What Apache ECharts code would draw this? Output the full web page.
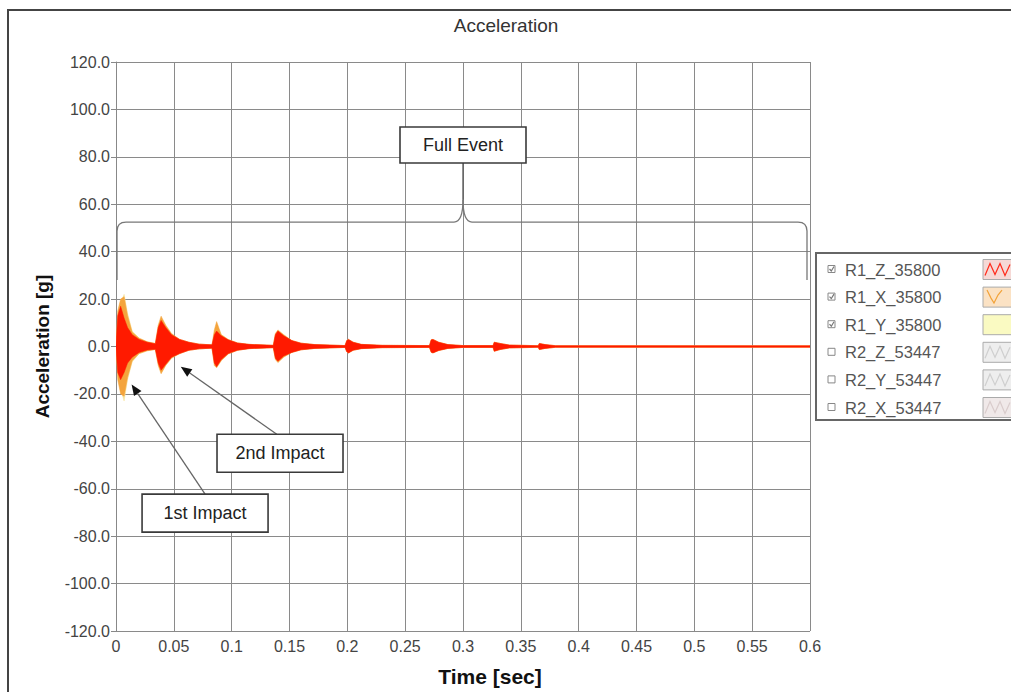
<!DOCTYPE html>
<html><head><meta charset="utf-8">
<script src="https://cdn.jsdelivr.net/npm/echarts@6/dist/echarts.min.js"></script>
<style>html,body{margin:0;padding:0;background:#fff;}#c{width:1011px;height:692px;}</style>
</head><body><div id="c"></div>
<script>
// ---------- data ----------
const chartTitle = 'Acceleration';
const xAxisTitle = 'Time [sec]';
const yAxisTitle = 'Acceleration [g]';

// envelope sample times (sec)
const time = [0.000,0.0015,0.004,0.007,0.010,0.014,0.020,0.027,0.034,
  0.0365,0.039,0.043,0.048,0.055,0.063,0.072,0.083,
  0.085,0.087,0.091,0.097,0.105,0.115,0.136,
  0.1378,0.140,0.145,0.152,0.160,0.172,0.198,
  0.1995,0.201,0.205,0.212,0.230,0.271,
  0.2725,0.274,0.279,0.287,0.300,0.326,
  0.327,0.332,0.340,0.365,
  0.366,0.371,0.380,0.600];

// R1_Z (red) envelope
const zUpper = [0.5,13,17,12,8,5,3,1.8,1.2,
  8,11,8,5,3,1.8,1,0.7,
  5,6.5,4.5,2.8,1.5,0.9,0.5,
  5,6.5,4.5,2.5,1.4,0.8,0.4,
  2.5,3,1.8,0.9,0.5,0.4,
  2.8,3,1.8,0.8,0.4,0.4,
  1.8,1.3,0.6,0.35,
  1.3,0.8,0.35,0.3];
const zLower = [-0.5,-11,-14,-11,-7,-4.5,-2.5,-1.5,-1.2,
  -7,-10,-7.5,-4.5,-3,-1.6,-1,-0.7,
  -7,-8.5,-5.5,-3,-1.6,-0.9,-0.5,
  -5,-6.2,-4,-2.5,-1.4,-0.8,-0.4,
  -2.2,-2.7,-1.6,-0.9,-0.5,-0.4,
  -2.4,-2.7,-1.7,-0.8,-0.4,-0.4,
  -2,-1.3,-0.6,-0.35,
  -1.3,-0.8,-0.35,-0.3];
// R1_X (orange) envelope
const xUpper = [0.5,15,20,21,13,6,3.5,2,1.3,
  9,12.8,9,5.5,3,1.8,1,0.7,
  7,10.5,5,3,1.5,0.9,0.5,
  5.5,7,5,2.5,1.4,0.8,0.4,
  2.5,3,1.8,0.9,0.5,0.4,
  2.8,3,1.8,0.8,0.4,0.4,
  1.8,1.3,0.6,0.35,
  1.3,0.8,0.35,0.3];
const xLower = [-0.5,-14,-20,-21,-13,-6,-3,-1.8,-1.3,
  -8,-11.5,-8,-5,-3,-1.6,-1,-0.7,
  -8,-9,-6,-3.2,-1.6,-0.9,-0.5,
  -5.5,-6.8,-4.5,-2.5,-1.4,-0.8,-0.4,
  -2.2,-2.7,-1.6,-0.9,-0.5,-0.4,
  -2.4,-2.7,-1.7,-0.8,-0.4,-0.4,
  -2,-1.3,-0.6,-0.35,
  -1.3,-0.8,-0.35,-0.3];
// R1_Y (yellow) envelope
const yUpper = [0.3,12,18,22,14,6.5,3.5,2,1.2,
  7,12,8,5,3,1.8,1,0.7,
  4,9,5,2.8,1.5,0.9,0.5,
  5,6.5,4.5,2.5,1.4,0.8,0.4,
  2.5,3,1.8,0.9,0.5,0.4,
  2.8,3,1.8,0.8,0.4,0.4,
  1.8,1.3,0.6,0.35,
  1.3,0.8,0.35,0.3];
const yLower = [-0.3,-10,-18,-23,-14,-6.5,-3,-1.8,-1.2,
  -6,-11,-7.5,-4.5,-3,-1.6,-1,-0.7,
  -6,-8.5,-5.5,-3,-1.6,-0.9,-0.5,
  -5,-6.2,-4,-2.5,-1.4,-0.8,-0.4,
  -2.2,-2.7,-1.6,-0.9,-0.5,-0.4,
  -2.4,-2.7,-1.7,-0.8,-0.4,-0.4,
  -2,-1.3,-0.6,-0.35,
  -1.3,-0.8,-0.35,-0.3];

const legendNames = ['R1_Z_35800','R1_X_35800','R1_Y_35800','R2_Z_53447','R2_Y_53447','R2_X_53447'];
const legendChecked = [true,true,true,false,false,false];
const annotationTexts = ['Full Event','1st Impact','2nd Impact'];

// ---------- chart ----------
const FONT = 'Liberation Sans, Arial, sans-serif';
const chart = echarts.init(document.getElementById('c'), null, {renderer:'svg'});

function band(name, upper, lower, color, z){
  return {
    name:name, type:'custom', z:z, silent:true, clip:true,
    data:[[0]],
    renderItem:function(params, api){
      const top = upper.map((v,i)=>api.coord([time[i], v]));
      const bot = lower.map((v,i)=>api.coord([time[i], v])).reverse();
      return {type:'polygon', shape:{points: top.concat(bot)},
        style:{fill:color, stroke:color, lineWidth:0.5}};
    }
  };
}

const axisCommon = {
  axisLine:{show:true, lineStyle:{color:'#888', width:1}},
  axisTick:{show:true, length:5, lineStyle:{color:'#888'}},
  splitLine:{show:true, lineStyle:{color:'#8a8a8a', width:1}},
};

chart.setOption({
  animation:false,
  backgroundColor:'#fff',
  title:{text:chartTitle, left:501, top:11, textAlign:'center',
    textStyle:{fontFamily:FONT, fontSize:19, fontWeight:'normal', color:'#333'}},
  grid:{left:116, right:201, top:62, bottom:60, containLabel:false},
  xAxis:Object.assign({type:'value', min:0, max:0.6, interval:0.05,
    axisLabel:{formatter:v=>String(+v.toFixed(2)), color:'#444', fontFamily:FONT, fontSize:16, margin:7},
    name:xAxisTitle, nameLocation:'middle', nameGap:35,
    nameTextStyle:{fontFamily:FONT, fontSize:21, fontWeight:'bold', color:'#111', padding:[0,0,0,54]}}, axisCommon),
  yAxis:Object.assign({type:'value', min:-120, max:120, interval:20,
    axisLabel:{formatter:v=>v.toFixed(1), color:'#444', fontFamily:FONT, fontSize:16, margin:6},
    name:yAxisTitle, nameLocation:'middle', nameGap:64,
    nameTextStyle:{fontFamily:FONT, fontSize:19, fontWeight:'bold', color:'#111'}}, axisCommon),
  series:[
    band('R1_Y_35800', yUpper, yLower, '#f6e39c', 3),
    band('R1_X_35800', xUpper, xLower, '#f4a43c', 4),
    band('R1_Z_35800', zUpper, zLower, '#ff1a00', 5)
  ]
});

// ---------- annotations (anchored in data coordinates) ----------
const P = (t,v)=>chart.convertToPixel({xAxisIndex:0, yAxisIndex:0},[t,v]);
const G = [];

// outer frame
G.push({type:'rect', z:100, shape:{x:8, y:10, width:1100, height:800}, style:{fill:null, stroke:'#444', lineWidth:2}, silent:true});

// brace
(function(){
  const xL = P(0,0)[0]+1, xR = P(0.6,0)[0]-3, xC = P(0.3,0)[0];
  const yH = P(0,52.5)[1], yE = P(0,28)[1], yT = P(0,62)[1];
  const r = 9;
  const st = {fill:null, stroke:'#777', lineWidth:1.3};
  const L = (x1,y1,x2,y2)=>G.push({type:'line', z:100, shape:{x1,y1,x2,y2}, style:st, silent:true});
  const Q = (x1,y1,cx,cy,x2,y2)=>G.push({type:'bezierCurve', z:100, shape:{x1,y1,x2,y2,cpx1:cx,cpy1:cy}, style:st, silent:true});
  L(xL,yE,xL,yH+r); Q(xL,yH+r,xL,yH,xL+r,yH); L(xL+r,yH,xC-r,yH); Q(xC-r,yH,xC,yH,xC,yT);
  Q(xC,yT,xC,yH,xC+r,yH); L(xC+r,yH,xR-r,yH); Q(xR-r,yH,xR,yH,xR,yH+r); L(xR,yH+r,xR,yE);
  const yb = P(0,77.5)[1];
  G.push({type:'line', z:100, shape:{x1:xC, y1:yT, x2:xC, y2:yb}, style:{stroke:'#555', lineWidth:1.3}, silent:true});
})();

function box(t, v, w, h, text){
  const [cx, cy] = P(t, v);
  G.push({type:'rect', z:101, shape:{x:cx-w/2, y:cy-h/2, width:w, height:h},
    style:{fill:'#fff', stroke:'#3a3a3a', lineWidth:1.6}, silent:true});
  G.push({type:'text', z:102, x:cx, y:cy, style:{text:text, fontFamily:FONT, fontSize:18, fill:'#222', align:'center', verticalAlign:'middle'}, silent:true});
}
function arrow(t1, v1, t2, v2){
  const [x1,y1] = P(t1,v1), [x2,y2] = P(t2,v2);
  const a = Math.atan2(y2-y1, x2-x1), L = 11, W = 4.5;
  const bx = x2 - L*Math.cos(a), by = y2 - L*Math.sin(a);
  G.push({type:'line', z:101, shape:{x1:x1, y1:y1, x2:bx, y2:by}, style:{stroke:'#666', lineWidth:1.3}, silent:true});
  G.push({type:'polygon', z:101, shape:{points:[[x2,y2],[bx+W*Math.sin(a), by-W*Math.cos(a)],[bx-W*Math.sin(a), by+W*Math.cos(a)]]},
    style:{fill:'#111'}, silent:true});
}
box(0.3, 85, 126, 36, annotationTexts[0]);
arrow(0.077, -62.3, 0.0135, -16);
arrow(0.139, -37, 0.056, -8.5);
box(0.077, -70.3, 126, 38, annotationTexts[1]);
box(0.1418, -45, 126, 38, annotationTexts[2]);

// legend panel
(function(){
  const x0 = 816, y0 = 253, rowH = 27.6, first = 269.5;
  G.push({type:'rect', z:100, shape:{x:x0, y:y0, width:220, height:167}, style:{fill:'#fff', stroke:'#666', lineWidth:2}, silent:true});
  const swBg = ['#f6d9d6','#fbe2c4','#fafac2','#eeeeee','#eeeeee','#f0e9e9'];
  const swLn = ['#ff2a1a','#f2a33a',null,'#cfcfcf','#cfcfcf','#d9cccc'];
  legendNames.forEach((n,i)=>{
    const cy = first + i*rowH;
    G.push({type:'rect', z:101, shape:{x:828, y:cy-4, width:7, height:7}, style:{fill:'#fff', stroke:'#888', lineWidth:1}, silent:true});
    if (legendChecked[i]) {
      G.push({type:'polyline', z:101, shape:{points:[[829.5,cy-0.5],[831.3,cy+1.5],[834,cy-3]]}, style:{fill:null, stroke:'#777', lineWidth:1.2}, silent:true});
    }
    G.push({type:'text', z:101, x:845, y:cy, style:{text:n, fontFamily:FONT, fontSize:16.5, fill:'#555', verticalAlign:'middle'}, silent:true});
    G.push({type:'rect', z:101, shape:{x:983, y:cy-10, width:30, height:20}, style:{fill:swBg[i], stroke:'#aaa', lineWidth:1}, silent:true});
    if (swLn[i]) {
      const pts = i===1 ? [[987,cy-7],[991,cy+1],[994,cy+6],[998,cy-2],[1002,cy-7]]
                        : [[985,cy+6],[990,cy-6],[995,cy+5],[1000,cy-6],[1005,cy+6],[1010,cy-5]];
      G.push({type:'polyline', z:102, shape:{points:pts}, style:{fill:null, stroke:swLn[i], lineWidth:1.2}, silent:true});
    }
  });
})();

chart.setOption({graphic:{elements:G}});
</script>
</body></html>
